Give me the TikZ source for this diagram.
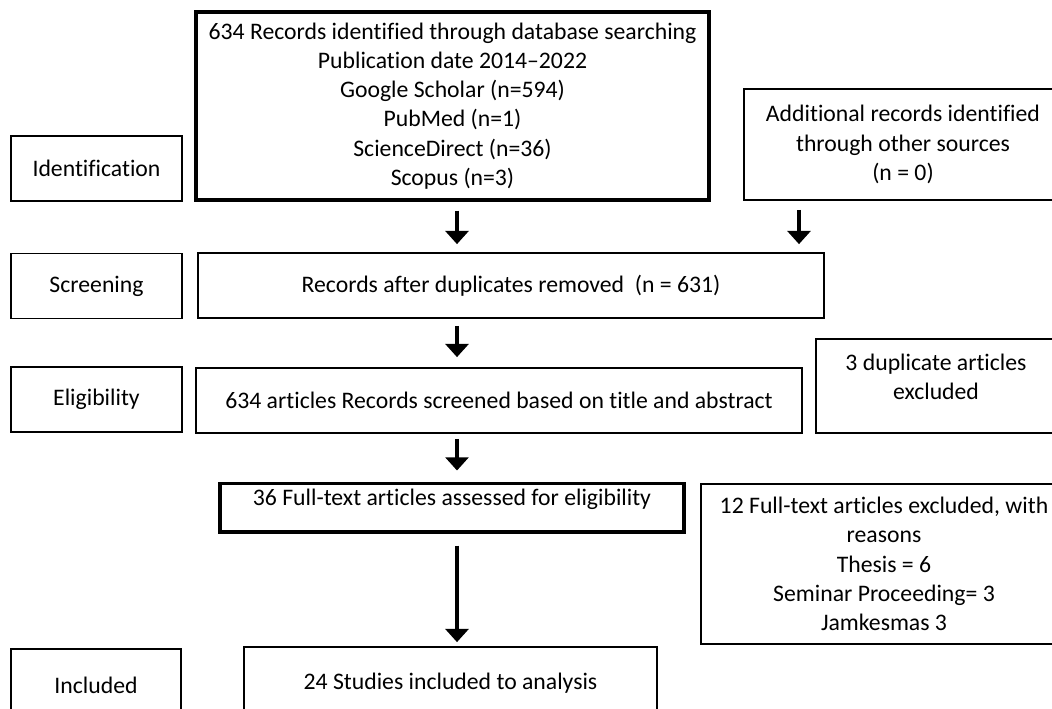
\documentclass[tikz,border=0pt]{standalone}
\usepackage{fontspec}
\setmainfont{Carlito}[RawFeature={-liga;-clig;-dlig;-calt}]
\usepackage{tikz}
\usetikzlibrary{arrows.meta}

\begin{document}
\begin{tikzpicture}[x=0.02cm, y=-0.02cm,
    box/.style={draw, line width=1pt, inner sep=2pt, align=center,
      font=\fontsize{13.5}{16.6}\selectfont},
    thickbox/.style={box, line width=1.8pt},
    txt/.style={align=center, inner sep=0pt, font=\fontsize{13.5}{16.6}\selectfont},
    stage/.style={box, minimum width=3.42cm, minimum height=1.3cm},
    arr/.style={line width=2.6pt, -{Triangle[width=13pt, length=7.5pt]}}]
    \useasboundingbox (0,0) rectangle (1052,708);
    \clip (0,0) rectangle (1052,708);

    \def \axis {457}
    \coordinate (left) at (\axis,0);
    \coordinate (right) at (799,0);

    \node[stage] (ident) at (96.5,168.5) {Identification};
    \node[stage] (screen) at (96.5,286) {Screening};
    \node[stage] (elig) at (96.5,399.5) {Eligibility};
    \node[stage, minimum width=3.4cm, minimum height=1.44cm] (incl) at (96,685) {Included};

    \node[thickbox, minimum width=10.26cm, minimum height=3.76cm] (search) at (452.5,106)
      {634 Records identified through database searching\\
       Publication date 2014--2022\\
       Google Scholar (n=594)\\
       PubMed (n=1)\\
       ScienceDirect (n=36)\\
       Scopus (n=3)};
    \node[box, minimum width=6.36cm, minimum height=2.22cm] (other) at (903,144.5)
      {Additional records identified\\ through other sources\\ (n = 0)};
    \node[box, minimum width=12.52cm, minimum height=1.3cm] (dedup) at (511,285.5)
      {Records after duplicates removed~ (n = 631)};
    \node[box, minimum width=12.12cm, minimum height=1.3cm] (title) at (499,400.5)
      {634 articles Records screened based on title and abstract};
    \node[box, minimum width=4.8cm, minimum height=1.88cm] (dup) at (936,386) {};
    \node[txt] (duptext) at (936,377) {3 duplicate articles\\ excluded};
    \node[thickbox, minimum width=9.28cm, text height=11pt, text depth=12.8pt] (full) at (452,507.5)
      {36 Full-text articles assessed for eligibility};
    \node[box, minimum width=7.32cm, minimum height=3.2cm] (excl) at (884,564)
      {12 Full-text articles excluded, with\\ reasons\\ Thesis = 6\\
       Seminar Proceeding= 3\\ Jamkesmas 3};
    \node[box, minimum width=8.26cm, minimum height=1.44cm] (study) at (450.5,683)
      {24 Studies included to analysis};

    \draw[arr, shorten <=0.18cm, shorten >=0.16cm] (left |- search.south) -- (left |- dedup.north);
    \draw[arr, shorten <=0.18cm, shorten >=0.16cm] (right |- other.south) -- (right |- dedup.north);
    \draw[arr, shorten <=0.14cm, shorten >=0.2cm] (left |- dedup.south) -- (left |- title.north);
    \draw[arr, shorten <=0.1cm, shorten >=0.22cm] (left |- title.south) -- (left |- full.north);
    \draw[arr, shorten <=0.24cm, shorten >=0.08cm] (left |- full.south) -- (left |- study.north);
\end{tikzpicture}
\end{document}
